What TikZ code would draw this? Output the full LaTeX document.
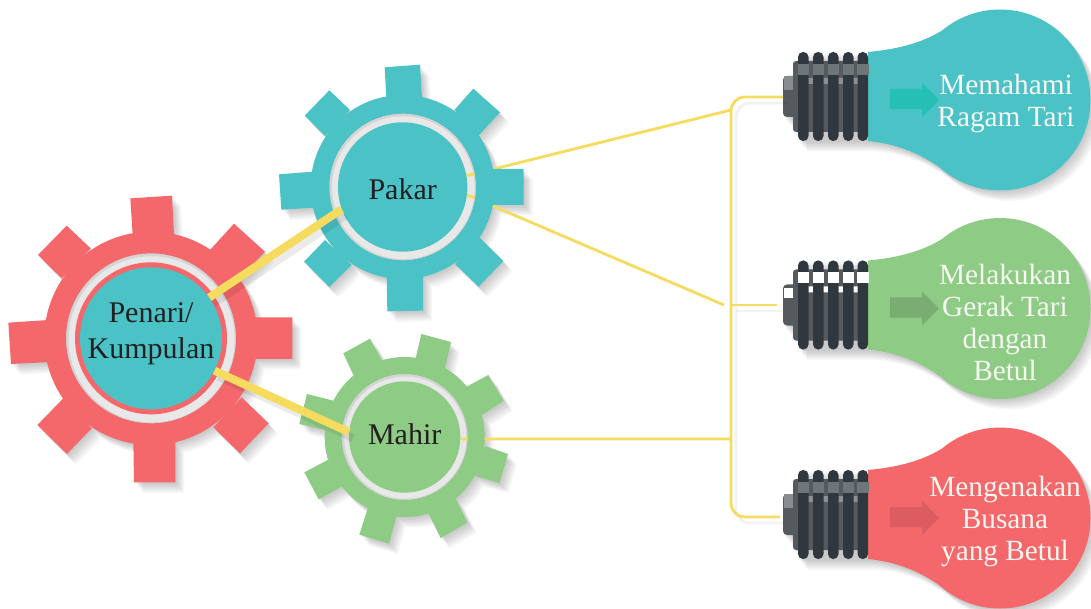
\documentclass[tikz,border=0pt]{standalone}
\usepackage{fontspec}
\setmainfont{Liberation Serif}
\definecolor{cteal}{HTML}{4BC2C6}
\definecolor{cred}{HTML}{F4676B}
\definecolor{cgreen}{HTML}{8ECB85}
\definecolor{cyel}{HTML}{F6DC5E}
\definecolor{cdark}{HTML}{30383F}
\definecolor{cmid}{HTML}{565A5C}
\definecolor{cgrey}{HTML}{D4D4D4}
\definecolor{clight}{HTML}{E8E8E8}
\definecolor{ctext}{HTML}{231F20}
\definecolor{cwhite}{HTML}{F7F7F2}
\definecolor{atea}{HTML}{25BFB5}
\definecolor{agre}{HTML}{7AAD72}
\definecolor{ared}{HTML}{DC5C62}
\definecolor{sone}{HTML}{6F767A}
\definecolor{stwo}{HTML}{8C9092}
\definecolor{scap}{HTML}{888D8F}
\tikzset{
  hub/.style={circle,inner sep=0pt,font=\fontsize{30}{36}\selectfont,text=ctext,align=center},
  thinline/.style={draw=cyel,line width=2.8pt},
  thickline/.style={draw=cyel,line width=8pt},
  linesh/.style={draw=black,opacity=.05,transform canvas={shift={(#1)}}},
  bulbtext/.style={font=\fontsize{29.3}{32}\selectfont,text=cwhite,align=center,inner sep=0pt},
  rib/.style={fill=cdark,rounded corners=5pt},
}
\newcommand\softshadow[1]{\foreach \i in {1,...,7}{\fill[black,opacity=.032,shift={(1.3*\i pt,-1.5*\i pt)}] #1;}}
\newcommand\inred[1]{\begin{scope}[shift={(0,190)},x=.33333pt,y=-.33333pt]#1\end{scope}}
\newcommand\inteal[1]{\begin{scope}[shift={(270,60)},x=.33333pt,y=-.33333pt]#1\end{scope}}
\newcommand\ingreen[1]{\begin{scope}[shift={(290,330)},x=.33333pt,y=-.33333pt]#1\end{scope}}
\def\redteeth{(391,25)--(516,17)--(522,135)--(398,135)--cycle
 (702,101)--(795,185)--(720,265)--(630,180)--cycle
 (877,382)--(877,507)--(760,507)--(760,382)--cycle
 (806,700)--(720,790)--(640,712)--(725,622)--cycle
 (526,877)--(402,877)--(400,750)--(526,750)--cycle
 (201,792)--(112,705)--(190,625)--(275,715)--cycle
 (33,522)--(25,398)--(145,390)--(150,516)--cycle
 (114,195)--(200,107)--(272,175)--(185,265)--cycle}
\def\tealteeth{(344,22)--(450,14)--(456,115)--(349,115)--cycle
 (610,86)--(690,157)--(625,228)--(553,150)--cycle
 (761,327)--(761,435)--(665,435)--(665,327)--cycle
 (700,603)--(626,680)--(555,612)--(628,532)--cycle
 (459,752)--(352,754)--(350,645)--(459,645)--cycle
 (178,681)--(102,605)--(165,540)--(245,615)--cycle
 (34,449)--(27,343)--(128,335)--(134,443)--cycle
 (104,167)--(178,91)--(240,150)--(165,228)--cycle}
\def\greenteeth{(160,70)--(240,26)--(275,90)--(190,135)--cycle
 (394,12)--(483,36)--(465,115)--(377,85)--cycle
 (595,135)--(641,213)--(575,255)--(530,170)--cycle
 (654,372)--(628,459)--(552,437)--(585,348)--cycle
 (532,578)--(452,624)--(415,550)--(497,505)--cycle
 (297,641)--(208,614)--(235,530)--(320,555)--cycle
 (86,508)--(43,427)--(113,390)--(155,470)--cycle
 (28,282)--(51,192)--(130,212)--(105,300)--cycle}
% bulb outline, positions given for the top bulb
\def\bulbpath{(1000,100) circle (90.5)
 (868,52) .. controls (900,49) and (925,42) .. (946,28) -- (1000,100) -- (946,172) .. controls (925,156) and (900,144) .. (868,141) -- cycle}
\def\basepath{(783,76) rectangle (868,117) (793,61) rectangle (868,132) (798,52) rectangle (868,141)}
\newcommand\bulbshadow[1]{\begin{scope}[shift={(0,#1)}]\softshadow{\bulbpath}\softshadow{\basepath}\end{scope}}
% #1 offset, #2 glass, #3 arrow, #4 rib strip, #5 gap strip, #6 cap strip, #7 cap strip top
\newcommand\bulb[7]{\begin{scope}[shift={(0,#1)}]
  \fill[#2] \bulbpath;
  \fill[#3] (890,89)--(922,89)--(922,83)--(939,100)--(922,117)--(922,109)--(890,109)--cycle;
  \fill[cmid,rounded corners=4pt] (783,76) rectangle (800,117);
  \fill[#6] (784,#7) rectangle (795,90);
  \fill[cmid,rounded corners=3pt] (793,61) rectangle (866,132);
  \fill[#5] (808,78) rectangle (813,84) (823,78) rectangle (828,84) (838,78) rectangle (843,84) (853,78) rectangle (858,84);
  \foreach \xa/\xb in {798/808.5,813/823.5,828/838.5,843/853.5,857.5/868}{
    \fill[rib] (\xa,52) rectangle (\xb,141);
    \fill[#4] (\xa-.5,64) rectangle (\xb+.5,75);
  }
\end{scope}}
\begin{document}
\begin{tikzpicture}[x=1pt,y=-1pt]
\useasboundingbox (0,0) rectangle (1091,609);
\fill[white] (0,0) rectangle (1091,609);
% shadows
\inred{\softshadow{(453,445) circle (320) \redteeth}}
\inteal{\softshadow{(398,381) circle (276) \tealteeth}}
\ingreen{\softshadow{(344,321) circle (240) \greenteeth}}
\bulbshadow{0}\bulbshadow{208.5}\bulbshadow{418}
% grey rings
\inred{\fill[cgrey] (453,445) circle (255); \fill[clight] (455,448) circle (249); \fill[cred] (453,445) circle (228);}
\inteal{\fill[cgrey] (398,381) circle (220); \fill[clight] (400,383) circle (214);}
\ingreen{\fill[cgrey] (344,321) circle (189); \fill[clight] (346,323) circle (183);}
% hubs
\inred{\node[hub,fill=cteal,minimum size=142pt] (penari) at (453,445) {\raisebox{-1pt}[0pt][0pt]{\begin{tabular}{@{}c@{}}Penari/\\Kumpulan\end{tabular}}};}
\inteal{\node[hub,fill=cteal,minimum size=129.4pt] (pakar) at (398,381) {\raisebox{-13pt}[0pt][0pt]{Pakar}};}
\ingreen{\node[hub,fill=cgreen,minimum size=111.4pt] (mahir) at (344,321) {\raisebox{-7pt}[0pt][0pt]{Mahir}};}
% bulbs
\bulb{0}{cteal}{atea}{sone}{stwo}{scap}{76}
\bulb{208.5}{cgreen}{agre}{white}{white}{white}{80}
\bulb{418}{cred}{ared}{sone}{stwo}{scap}{76}
\coordinate (s1) at (783,97);
\coordinate (s2) at (777,305);
\coordinate (s3) at (780,517);
\coordinate (t1) at (731,97);
\coordinate (t2) at (731,305);
\coordinate (t3) at (731,517);
\coordinate (j1) at (731,110);
\coordinate (j2) at (724,305);
\coordinate (j3) at (731,439);
% thin connectors
\draw[thinline,linesh={5pt,-6pt},rounded corners=14pt] (s1) -- (t1) -- (t3) -- (s3);
\draw[thinline,linesh={5pt,-6pt}] (s2) -- (t2);
\draw[thinline] (pakar.10) -- (j1);
\draw[thinline] (pakar.-7) -- (j2);
\draw[thinline] (mahir.-2) -- (j3);
\draw[thinline,rounded corners=14pt] (s1) -- (t1) -- (t3) -- (s3);
\draw[thinline] (s2) -- (t2);
% gear bodies
\inred{\fill[cred,even odd rule] (453,445) circle (320) (453,445) circle (255); \fill[cred] \redteeth;}
\inteal{\fill[cteal,even odd rule] (398,381) circle (276) (398,381) circle (220); \fill[cteal] \tealteeth;}
\ingreen{\fill[cgreen,even odd rule] (344,321) circle (240) (344,321) circle (189); \fill[cgreen] \greenteeth;}
% thick connectors
\draw[thickline,linesh={4pt,-6pt},opacity=.08] (penari.35) -- (pakar.200);
\draw[thickline,linesh={4pt,-6pt},opacity=.08] (penari.-27) -- (mahir.175);
\draw[thickline] (penari.35) -- (pakar.200);
\draw[thickline] (penari.-27) -- (mahir.175);
% bulb labels
\node[bulbtext] (l1) at (1006,103.5) {Memahami\\Ragam Tari};
\node[bulbtext] (l2) at (1005,322) {Melakukan\\Gerak Tari\\dengan\\Betul};
\node[bulbtext] (l3) at (1005,521.5) {Mengenakan\\Busana\\yang Betul};
\end{tikzpicture}
\end{document}
